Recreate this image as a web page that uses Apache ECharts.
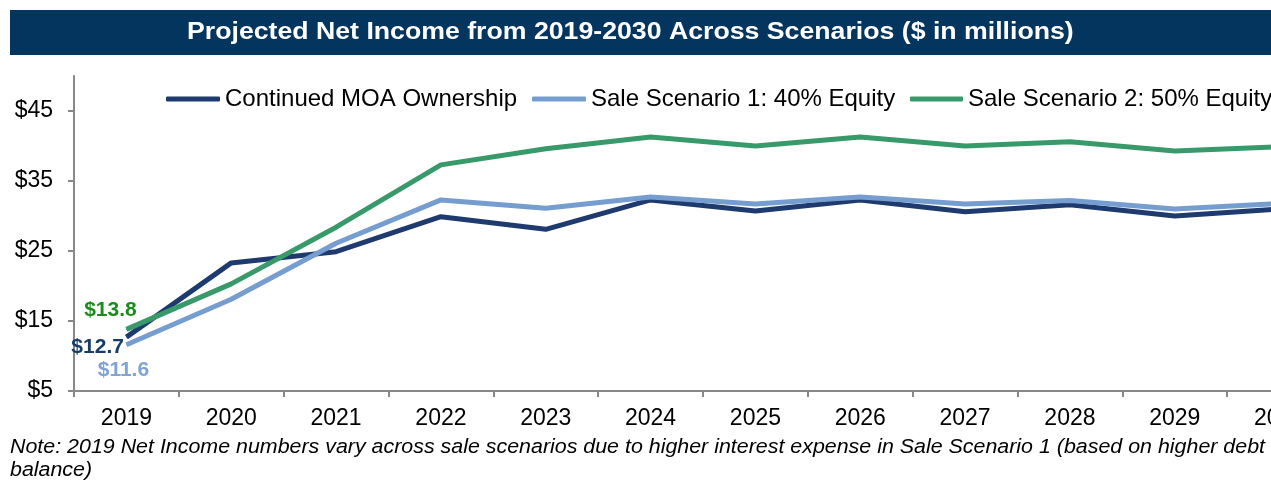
<!DOCTYPE html>
<html>
<head>
<meta charset="utf-8">
<script src="https://cdn.jsdelivr.net/npm/echarts@6/dist/echarts.min.js"></script>
<style>
html, body { margin: 0; padding: 0; background: #fff; overflow: hidden; }
/* the 2030 column runs past the right edge in the original, so the canvas is wider than the window */
#main { width: 1340px; height: 480px; }
</style>
</head>
<body>
<div id="main"></div>
<script>
var years = ['2019', '2020', '2021', '2022', '2023', '2024', '2025', '2026', '2027', '2028', '2029', '2030'];
var moaOwnership = [12.7, 23.3, 24.9, 29.9, 28.1, 32.3, 30.7, 32.3, 30.6, 31.6, 30.0, 31.0];
var saleScenario1 = [11.6, 18.1, 26.1, 32.3, 31.1, 32.7, 31.7, 32.7, 31.7, 32.2, 31.0, 31.8];
var saleScenario2 = [13.8, 20.3, 28.4, 37.3, 39.6, 41.3, 40.0, 41.3, 40.0, 40.6, 39.3, 39.9];
var seriesNames = ['Continued MOA Ownership', 'Sale Scenario 1: 40% Equity', 'Sale Scenario 2: 50% Equity'];

var font = 'Liberation Sans, Arial, sans-serif';
var chart = echarts.init(document.getElementById('main'));

// only the 2019 point carries a label
function withFirstLabel(values, color, pos, offset) {
    return values.map(function (v, i) {
        if (i > 0) return v;
        return {
            value: v,
            label: {
                show: true, position: pos, offset: offset,
                formatter: '${c}', color: color,
                fontFamily: font, fontWeight: 'bold', fontSize: 21
            }
        };
    });
}

function lineSeries(name, values, color, labelColor, pos, offset) {
    return {
        name: name,
        type: 'line',
        data: withFirstLabel(values, labelColor, pos, offset),
        symbol: 'circle',
        symbolSize: 1,
        itemStyle: { color: color },
        lineStyle: { color: color, width: 5 },
        emphasis: { disabled: true },
        animation: false
    };
}

function legendAt(name, left, w) {
    return {
        data: [name],
        left: left,
        top: 87,
        padding: 0,
        icon: 'roundRect',
        itemWidth: w,
        itemHeight: 5,
        textStyle: { fontFamily: font, fontSize: 24, color: '#000' }
    };
}

var option = {
    backgroundColor: '#fff',
    graphic: [
        { type: 'rect', x: 10, y: 10, shape: { width: 1261, height: 45 }, style: { fill: '#03355f' } },
        {
            type: 'text', x: 187, y: 33, scaleX: 1.16,
            style: {
                text: 'Projected Net Income from 2019-2030 Across Scenarios ($ in millions)',
                fill: '#fff', font: 'bold 23px Liberation Sans, Arial, sans-serif',
                verticalAlign: 'middle'
            }
        },
        {
            type: 'text', x: 10, y: 436, scaleX: 1.07,
            style: {
                text: 'Note: 2019 Net Income numbers vary across sale scenarios due to higher interest expense in Sale Scenario 1 (based on higher debt\nbalance)',
                fill: '#000', font: 'italic 20px Liberation Sans, Arial, sans-serif', lineHeight: 23
            }
        }
    ],
    legend: [
        legendAt(seriesNames[0], 166, 54),
        legendAt(seriesNames[1], 532, 54),
        legendAt(seriesNames[2], 910, 53)
    ],
    grid: { left: 74, top: 76, width: 1258, height: 315, containLabel: false },
    xAxis: {
        type: 'category',
        data: years,
        boundaryGap: true,
        axisLine: { lineStyle: { color: '#888', width: 2 } },
        axisTick: { show: true, length: 6, lineStyle: { color: '#888', width: 2 } },
        axisLabel: { fontFamily: font, fontSize: 23, color: '#000', margin: 16 }
    },
    yAxis: {
        type: 'value',
        min: 5,
        max: 50,
        interval: 10,
        splitLine: { show: false },
        axisLine: { show: true, lineStyle: { color: '#888', width: 2 } },
        axisTick: { show: true, length: 6, lineStyle: { color: '#888', width: 2 } },
        axisLabel: {
            fontFamily: font, fontSize: 23, color: '#000', margin: 21,
            showMaxLabel: false,
            formatter: function (v) { return '$' + v; }
        }
    },
    series: [
        lineSeries(seriesNames[0], moaOwnership, '#1f3a6e', '#163d6a', 'left', [3, 10]),
        lineSeries(seriesNames[1], saleScenario1, '#769dcf', '#7fa3d4', 'bottom', [-3, 9]),
        lineSeries(seriesNames[2], saleScenario2, '#38996a', '#1c8c1c', 'top', [-16, -3])
    ]
};
chart.setOption(option);
</script>
</body>
</html>
